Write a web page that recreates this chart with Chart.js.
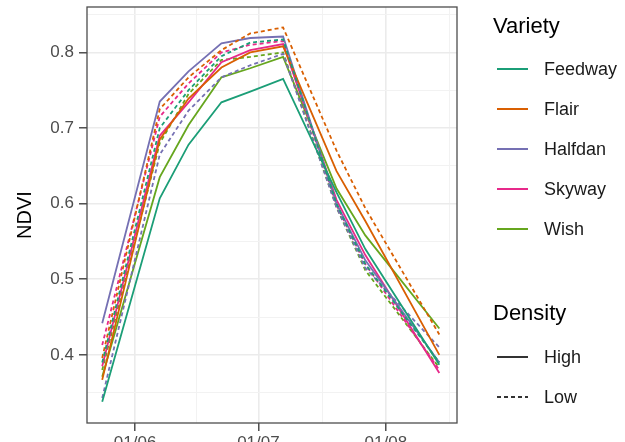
<!DOCTYPE html>
<html>
<head>
<meta charset="utf-8">
<script src="https://cdn.jsdelivr.net/npm/chart.js@4/dist/chart.umd.min.js"></script>
<style>
  html, body { margin: 0; padding: 0; background: #fff; overflow: hidden; }
  body { width: 625px; height: 442px; position: relative; font-family: 'Liberation Sans', Arial, sans-serif; }
  #ndvi { position: absolute; left: 0; top: 0; }
  #legend { position: absolute; left: 493px; top: 0; width: 132px; height: 442px; }
  .leg-title { position: absolute; left: 0; font-size: 22px; line-height: 24px; color: #000; white-space: nowrap; }
  .leg-item { position: absolute; left: 4px; height: 20px; line-height: 20px; display: flex; align-items: center; white-space: nowrap; font-size: 18px; color: #1a1a1a; }
  .leg-item svg { margin-right: 16px; flex: none; }
</style>
</head>
<body>
<canvas id="ndvi" width="625" height="455"></canvas>
<div id="legend"></div>
<script>
// ── NDVI through the season, by variety and density ──
const baseDay = Date.UTC(2021, 5, 1);

const dates = ['2021-05-24', '2021-06-07', '2021-06-14', '2021-06-22', '2021-06-29',
               '2021-07-07', '2021-07-20', '2021-07-27', '2021-08-14'];

const varieties = ['Feedway', 'Flair', 'Halfdan', 'Skyway', 'Wish'];
const varietyColors = ['#1B9E77', '#D95F02', '#7570B3', '#E7298A', '#66A61E'];
const densities = ['High', 'Low'];
const densityDash = [[], [4, 3]];

const feedwayHigh = [0.338, 0.607, 0.678, 0.734, 0.748, 0.765, 0.615, 0.540, 0.387];
const feedwayLow  = [0.390, 0.700, 0.750, 0.795, 0.813, 0.817, 0.600, 0.520, 0.390];
const flairHigh   = [0.367, 0.685, 0.739, 0.780, 0.800, 0.808, 0.643, 0.577, 0.400];
const flairLow    = [0.396, 0.725, 0.767, 0.803, 0.825, 0.833, 0.670, 0.594, 0.427];
const halfdanHigh = [0.442, 0.735, 0.775, 0.812, 0.819, 0.821, 0.600, 0.525, 0.390];
const halfdanLow  = [0.343, 0.665, 0.723, 0.767, 0.783, 0.798, 0.595, 0.515, 0.410];
const skywayHigh  = [0.385, 0.690, 0.734, 0.787, 0.803, 0.811, 0.605, 0.532, 0.376];
const skywayLow   = [0.413, 0.715, 0.759, 0.800, 0.810, 0.815, 0.598, 0.520, 0.380];
const wishHigh    = [0.371, 0.635, 0.704, 0.767, 0.779, 0.794, 0.620, 0.558, 0.435];
const wishLow     = [0.380, 0.680, 0.745, 0.790, 0.794, 0.800, 0.595, 0.512, 0.383];

const yMajorTicks = [0.4, 0.5, 0.6, 0.7, 0.8];
const yMinorTicks = [0.35, 0.45, 0.55, 0.65, 0.75, 0.85];
const monthStarts = ['2021-06-01', '2021-07-01', '2021-08-01', '2021-09-01'];
const xTickLabels = ['01/06', '01/07', '01/08'];

const seriesValues = {
  Feedway: { High: feedwayHigh, Low: feedwayLow },
  Flair:   { High: flairHigh,   Low: flairLow },
  Halfdan: { High: halfdanHigh, Low: halfdanLow },
  Skyway:  { High: skywayHigh,  Low: skywayLow },
  Wish:    { High: wishHigh,    Low: wishLow }
};

function toDay(s) {
  const [y, m, d] = s.split('-').map(Number);
  return (Date.UTC(y, m - 1, d) - baseDay) / 864e5;
}

const X_MIN = -11.7, X_MAX = 78.3;
const Y_MIN = 0.31, Y_MAX = 0.86;

const monthDays = monthStarts.map(toDay);
function buildXTicks() {
  const t = [];
  xTickLabels.forEach((lab, i) => t.push({ value: monthDays[i], text: lab, minor: false }));
  for (let i = 0; i < monthDays.length - 1; i++) {
    const mid = (monthDays[i] + monthDays[i + 1]) / 2;
    if (mid > X_MIN && mid < X_MAX) t.push({ value: mid, text: '', minor: true });
  }
  return t.sort((a, b) => a.value - b.value);
}
function buildYTicks() {
  const t = yMajorTicks.map(v => ({ value: v, text: v.toFixed(1), minor: false }))
    .concat(yMinorTicks.filter(v => v > Y_MIN && v < Y_MAX).map(v => ({ value: v, text: '', minor: true })));
  return t.sort((a, b) => a.value - b.value);
}

const datasets = [];
varieties.forEach((v, vi) => {
  densities.forEach((d, di) => {
    datasets.push({
      label: v + ' ' + d,
      data: dates.map((dt, i) => ({ x: toDay(dt), y: seriesValues[v][d][i] })),
      borderColor: varietyColors[vi],
      borderDash: densityDash[di],
      borderWidth: 1.8,
      pointRadius: 0,
      tension: 0,
      fill: false
    });
  });
});

const panelBorder = {
  id: 'panelBorder',
  afterDatasetsDraw(chart) {
    const { ctx, chartArea: a } = chart;
    ctx.save();
    ctx.strokeStyle = '#4d4d4d';
    ctx.lineWidth = 1.3;
    ctx.strokeRect(a.left, a.top, a.right - a.left, a.bottom - a.top);
    ctx.restore();
  }
};

const gridColor = c => c.tick && c.tick.minor ? '#F2F2F2' : '#EBEBEB';
const gridWidth = c => c.tick && c.tick.minor ? 1 : 1.6;
const tickColor = c => c.tick && c.tick.minor ? 'rgba(0,0,0,0)' : '#333333';
const tickFont = { family: "'Liberation Sans', Arial, sans-serif", size: 17 };

new Chart(document.getElementById('ndvi'), {
  type: 'line',
  data: { datasets },
  plugins: [panelBorder],
  options: {
    responsive: false,
    animation: false,
    devicePixelRatio: 1,
    layout: { padding: { top: 7, right: 168, left: 0, bottom: 0 } },
    plugins: { legend: { display: false }, tooltip: { enabled: false } },
    scales: {
      x: {
        type: 'linear',
        min: X_MIN, max: X_MAX,
        afterBuildTicks: s => { s.ticks = buildXTicks(); },
        afterFit: s => { s.height = 32; s.paddingLeft = 0; s.paddingRight = 0; },
        border: { display: false },
        grid: { color: gridColor, lineWidth: gridWidth, tickColor: tickColor, tickLength: 8, tickWidth: 1.3 },
        ticks: {
          autoSkip: false, maxRotation: 0, padding: 2, color: '#4d4d4d', font: tickFont,
          callback: (val, i, t) => t[i].text
        }
      },
      y: {
        min: Y_MIN, max: Y_MAX,
        afterBuildTicks: s => { s.ticks = buildYTicks(); },
        afterFit: s => { s.width = 87; s.paddingTop = 0; s.paddingBottom = 0; },
        border: { display: false },
        grid: { color: gridColor, lineWidth: gridWidth, tickColor: tickColor, tickLength: 8, tickWidth: 1.3 },
        ticks: {
          autoSkip: false, padding: 5, color: '#4d4d4d', font: tickFont,
          callback: (val, i, t) => t[i].text
        },
        title: {
          display: true, text: 'NDVI', color: '#000',
          font: { family: "'Liberation Sans', Arial, sans-serif", size: 20 },
          padding: { top: 13, bottom: 0 }
        }
      }
    }
  }
});

// legend (two guides: colour = Variety, line type = Density)
function keySvg(color, dash) {
  return `<svg width="31" height="4"><line x1="0" y1="2" x2="31" y2="2" stroke="${color}" stroke-width="2"` +
    (dash.length ? ` stroke-dasharray="${dash.join(',')}"` : '') + `/></svg>`;
}
const legend = document.getElementById('legend');
let html = `<div class="leg-title" style="top:14px">Variety</div>`;
varieties.forEach((v, i) => {
  html += `<div class="leg-item" style="top:${59 + i * 40}px">${keySvg(varietyColors[i], [])}<span>${v}</span></div>`;
});
html += `<div class="leg-title" style="top:301px">Density</div>`;
densities.forEach((d, i) => {
  html += `<div class="leg-item" style="top:${347 + i * 40}px">${keySvg('#333333', densityDash[i])}<span>${d}</span></div>`;
});
legend.innerHTML = html;
</script>
</body>
</html>
